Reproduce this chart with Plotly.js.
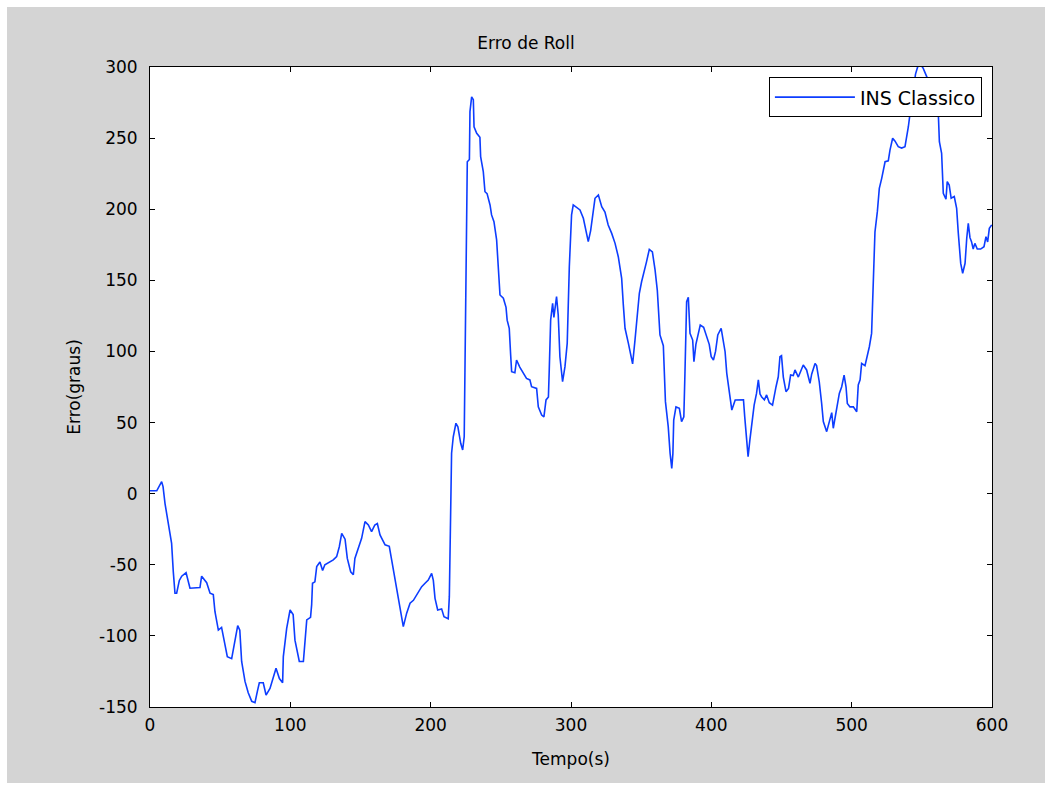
<!DOCTYPE html>
<html>
<head>
<meta charset="utf-8">
<script src="https://cdn.plot.ly/plotly-3.0.1.min.js"></script>
<style>
  html, body { margin: 0; padding: 0; background: #ffffff; }
  #chart { position: absolute; left: 7px; top: 7px; width: 1038px; height: 776px; }
</style>
</head>
<body>
<div id="chart"></div>
<script>
const tempo = [0, 4.8, 8.3, 9.3, 10.7, 13, 15.4, 16.6, 17.8, 19, 20.9, 22.6, 25.7, 28.5, 35.6, 36.8, 40.4, 42.8, 45.1, 46.3, 48.7, 51, 53.4, 55.1, 58.2, 60.6, 62.5, 64, 65.3, 67.7, 70, 72.5, 74.8, 76.5, 77.9, 80.7, 82.7, 85.5, 87.9, 89.8, 92.2, 94.5, 95, 96.2, 97.4, 99.8, 102, 103.3, 106.4, 109.3, 110.4, 111.7, 114.4, 115.2, 115.8, 117.5, 118.8, 121.1, 123, 124.6, 130.6, 133, 134.9, 136.6, 139, 140.6, 143, 144.9, 146, 148.5, 150.8, 153.2, 155.6, 157.9, 160.2, 162, 163.9, 167.5, 170.5, 172.2, 174.6, 177, 179.3, 180.5, 182.9, 185.3, 187.7, 191.2, 193.6, 196, 198.3, 200.7, 201.9, 203.1, 205, 207.8, 209.5, 212.5, 213.3, 214.9, 216.1, 218, 219.4, 221.4, 222.8, 223.9, 224.7, 226.1, 227.6, 228, 229.2, 230.4, 230.9, 232.8, 235.1, 235.6, 237.5, 238.7, 240.2, 242.3, 243.4, 245.1, 247, 248.2, 249.4, 251.8, 253.7, 254.5, 256, 257, 257.7, 260, 261.2, 263.5, 265.9, 268.3, 270.7, 271.9, 275.5, 276.7, 279.1, 280.7, 282.2, 283.9, 284.5, 285.5, 286.9, 287.8, 289.7, 290.9, 292.1, 294, 295.7, 297.3, 298.8, 300.4, 301.6, 304, 306.4, 308.8, 311.1, 312.3, 314, 315.9, 317.1, 319.5, 321.9, 324.2, 326.5, 329, 331.4, 333.7, 336.1, 337.3, 338.5, 340.9, 342.5, 343.9, 345.6, 347.2, 348.7, 350.3, 352, 353.8, 355.8, 358, 359.9, 361.5, 363.4, 365.8, 367.3, 369.3, 370.6, 371.8, 372.6, 373.2, 374.8, 377.2, 378.8, 380.4, 381.2, 382.4, 383.6, 384.8, 386.7, 387.6, 389, 392.1, 394.5, 396.5, 398.5, 399.9, 401.5, 403, 404.6, 407, 408.2, 409.8, 411, 412.9, 414.6, 417, 420.5, 422.9, 423.8, 425, 426.2, 427.5, 428.6, 430.5, 432.2, 433.5, 434.7, 435.9, 437.8, 439.4, 441.3, 443.6, 446.1, 447.7, 448.9, 450, 451.3, 453.2, 455, 456.5, 458.4, 459.6, 462, 465.5, 467.9, 470.3, 471.5, 473.9, 475, 476.9, 478.6, 479.8, 482.2, 484.6, 485.8, 486.9, 489.3, 491.2, 492.9, 494.6, 496, 496.9, 498.8, 501.2, 503.6, 504.7, 506, 507.1, 509.5, 511.2, 512.6, 514.2, 515.4, 516.6, 518.3, 519.7, 521.4, 522.6, 523.8, 526.1, 527.3, 529.2, 530.8, 533.2, 535.6, 538, 538.7, 540.4, 541.6, 543.5, 545.5, 547, 549, 551, 554, 557, 560, 561.8, 562.5, 564.1, 565.3, 567.2, 568.1, 569.5, 570.9, 573.1, 573.6, 574.8, 576, 577.7, 579.1, 580.8, 582, 583.1, 584.3, 585.4, 586.6, 587.8, 589.5, 591.9, 594.3, 595.7, 596.9, 598.1, 599.8];

const erroRoll = [2, 2, 8.4, 5, -7, -20, -35, -55, -70, -70, -61, -58, -55.6, -66.5, -66, -58, -62.6, -70, -71, -83, -95.9, -94, -106, -114.6, -116, -103, -92.8, -96, -118, -132, -140, -146, -147, -139, -133, -133, -141.6, -136.9, -128.7, -122.8, -130, -133, -114.6, -105, -94.7, -81.8, -85, -103, -118, -118, -103, -88.8, -87, -78, -63, -62, -51.3, -48, -54, -50, -46.6, -44.3, -37.3, -27.9, -32, -45.5, -54.9, -57, -45.5, -38.4, -31.4, -19.7, -22, -26.7, -22, -21, -29, -36, -37, -46.6, -60.7, -74.8, -85.3, -93.5, -84, -77, -75, -68.9, -65.4, -63, -60.7, -56, -61, -73.6, -81.8, -81, -86.5, -88, -72.4, 28.4, 40, 49.5, 47, 35.4, 30.7, 40, 112.7, 233.4, 235, 268.6, 279, 277, 258, 253.4, 250.6, 237, 226.4, 212.3, 211, 203, 196, 191.2, 178.4, 159.6, 139.7, 137.4, 131, 122, 116.3, 97.5, 85.8, 85, 94, 89, 84.6, 81, 80, 75.2, 74, 61, 55.3, 54, 65.9, 68, 87, 122, 133.9, 124, 138.5, 125.6, 96.3, 78.7, 89.3, 105.7, 159.6, 196, 203, 201, 199.5, 193.6, 183, 177.2, 185, 198.3, 207.7, 210, 201.8, 198, 188.9, 183, 176, 166.6, 151.4, 132.6, 116.3, 105.7, 99, 91.2, 108, 125.6, 140.9, 149, 154.9, 163, 171.8, 170, 157.3, 143, 111.6, 104, 64.7, 47, 28.4, 17.8, 28, 51.8, 61, 60, 50.7, 54, 84.6, 135, 138, 112.7, 108, 92.8, 105, 118.6, 117, 110.4, 105, 96.3, 94, 100, 111.6, 116.3, 110, 99.8, 84.6, 71.7, 58.8, 65.9, 66, 66, 54, 40, 26, 38, 47, 62.3, 70.5, 80, 70, 68, 66, 69.4, 64, 62.3, 75.2, 82.2, 96.3, 97, 82, 71.7, 74, 83.4, 83, 87, 82, 90.5, 87, 77.6, 84, 91.6, 90, 78.7, 63.5, 50.7, 43.6, 51.8, 57, 46, 61, 70.5, 75.2, 83.4, 75, 63.5, 61, 61, 57.6, 76.4, 80, 91.6, 90, 96.3, 103.3, 112.7, 145.5, 184, 198.3, 214.7, 221.7, 227.6, 233.4, 234, 241.6, 249.9, 248, 244, 243, 244, 247.5, 258, 267.4, 282, 295, 300, 302, 299, 292, 283, 272, 266, 247.5, 239.3, 211.2, 207, 219.4, 217, 207.7, 209, 206.5, 200.6, 183, 161.9, 155, 162, 179.6, 190, 180, 177.2, 172, 176, 172, 172, 173.6, 180.7, 177, 186.6, 189];

const seriesName = "INS Classico";
const chartTitle = "Erro de Roll";
const xTitle = "Tempo(s)";
const yTitle = "Erro(graus)";
const xTicks = [0, 100, 200, 300, 400, 500, 600];
const yTicks = [-150, -100, -50, 0, 50, 100, 150, 200, 250, 300];

const font = { family: "DejaVu Sans, Liberation Sans, sans-serif", size: 17, color: "#000000" };
const legendFont = { family: "DejaVu Sans, Liberation Sans, sans-serif", size: 19, color: "#000000" };

const trace = {
  x: tempo, y: erroRoll, type: "scatter", mode: "lines", name: seriesName,
  line: { color: "#0d3dff", width: 1.6 }
};

const axisCommon = {
  showline: true, linecolor: "#000", linewidth: 1, mirror: "ticks",
  ticks: "inside", ticklen: 5, tickcolor: "#000", tickwidth: 1,
  showgrid: false, zeroline: false, tickfont: font
};

const layout = {
  width: 1038, height: 776,
  paper_bgcolor: "#d4d4d4", plot_bgcolor: "#ffffff",
  margin: { l: 143, r: 53, t: 60, b: 76 },
  font: font,
  title: { text: chartTitle, font: font, x: 0.5, xanchor: "center", y: 1 - 36/776, yanchor: "middle" },
  xaxis: Object.assign({}, axisCommon, {
    range: [0, 600], tickvals: xTicks, ticktext: xTicks.map(String),
    ticklabelstandoff: 3,
    title: { text: xTitle, font: font, standoff: 18 }
  }),
  yaxis: Object.assign({}, axisCommon, {
    range: [-150, 300], tickvals: yTicks, ticktext: yTicks.map(String),
    ticklabelstandoff: 8,
    title: { text: yTitle, font: font, standoff: 14 }
  }),
  showlegend: true,
  legend: {
    x: 0.988, y: 0.984, xanchor: "right", yanchor: "top",
    bgcolor: "#ffffff", bordercolor: "#000", borderwidth: 1,
    font: legendFont, itemwidth: 80
  }
};

Plotly.newPlot("chart", [trace], layout, { displayModeBar: false, staticPlot: true });
</script>
</body>
</html>
